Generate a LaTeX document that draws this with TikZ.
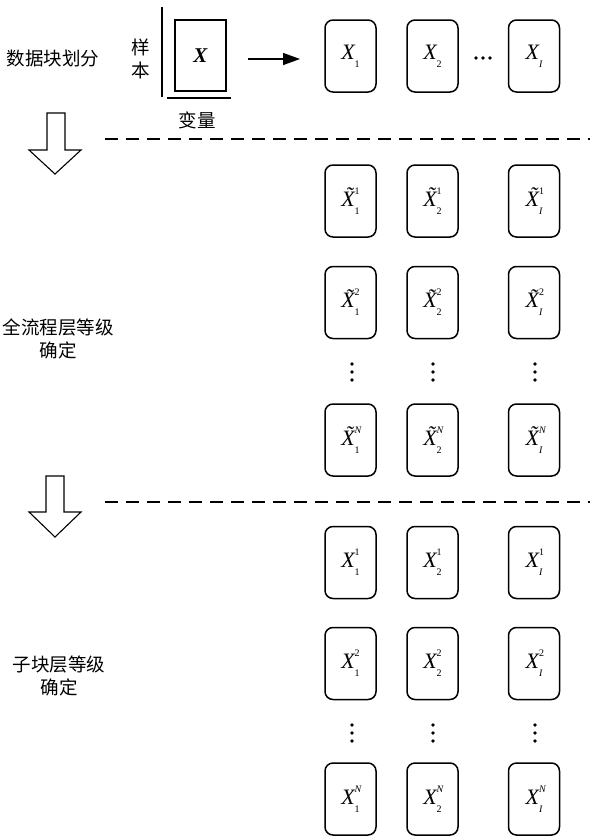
\documentclass[tikz,border=0pt]{standalone}
\usepackage{fontspec}
\setmainfont{Liberation Serif}
\newfontfamily\cjk{Noto Sans CJK SC}
\usetikzlibrary{arrows.meta}
\newcommand\xsym[3]{#1\makebox[0pt][l]{\raisebox{0.55em}{\fontsize{10}{10}\selectfont #2}}\raisebox{-0.36em}{\fontsize{10}{10}\selectfont #3}}
\newcommand\XX{{\itshape X}}
\newcommand\TX{{\itshape\~{X}}}
\tikzset{
  blk/.style={draw, line width=1.5pt, rounded corners=8pt, minimum width=51pt, minimum height=72pt, inner sep=0pt, font=\fontsize{22}{22}\selectfont},
  lbl/.style={font=\cjk\fontsize{18.5}{23}\selectfont, align=center, inner sep=0pt},
  sep/.style={line width=1.5pt, dash pattern=on 13pt off 8pt},
  bigarrow/.style={draw, line width=1.1pt, fill=white}
}
\begin{document}
\begin{tikzpicture}[x=1pt,y=-1pt]
\useasboundingbox (0,0) rectangle (590,836);
% left labels
\node[lbl] (t1) at (53,58) {数据块划分};
\node[lbl] (t2) at (58,339) {全流程层等级\\确定};
\node[lbl] (t3) at (59,676) {子块层等级\\确定};
% data matrix
\node[draw, line width=1.5pt, minimum width=51pt, minimum height=71pt, inner sep=0pt, font=\fontsize{21}{21}\selectfont\bfseries\itshape] (M) at (200.5,55.5) {X};
\coordinate (vl1) at (162,7);
\coordinate (vl2) at (162,97);
\draw[line width=1.5pt] (vl1) -- (vl2);
\coordinate (hl1) at (167,98);
\coordinate (hl2) at (231,98);
\draw[line width=1.5pt] (hl1) -- (hl2);
\node[lbl] (ybl) at (141,59) {样\\本};
\node[lbl] (bl) at (197,120) {变量};
\coordinate (a1) at (248,59);
\coordinate (a2) at (300,59);
\draw[line width=1.5pt, -{Triangle[length=17pt,width=12pt]}] (a1) -- (a2);
% row 1
\node[blk] (r1a) at (350.5,56) {\xsym{\XX}{}{1}};
\node[blk] (r1b) at (432.5,56) {\xsym{\XX}{}{2}};
\node[blk] (r1c) at (534,56) {\xsym{\XX}{}{\itshape I}};
\foreach \x in {476,483,490} \fill (\x,58) circle (1.8pt);
% separators
\coordinate (d1a) at (105,139);
\coordinate (d1b) at (590,139);
\draw[sep] (d1a) -- (d1b);
\coordinate (d2a) at (105,502);
\coordinate (d2b) at (590,502);
\draw[sep] (d2a) -- (d2b);
% big arrows
\draw[bigarrow] (47,113) -- (65,113) -- (65,150) -- (81,150) -- (55,174) -- (29,150) -- (47,150) -- cycle;
\draw[bigarrow] (46,476) -- (64,476) -- (64,512) -- (81,512) -- (55,537) -- (29,512) -- (46,512) -- cycle;
% tilde rows
\node[blk] (s1a) at (350.5,201) {\xsym{\TX}{1}{1}};
\node[blk] (s1b) at (432.5,201) {\xsym{\TX}{1}{2}};
\node[blk] (s1c) at (534,201) {\xsym{\TX}{1}{\itshape I}};
\node[blk] (s2a) at (350.5,302.5) {\xsym{\TX}{2}{1}};
\node[blk] (s2b) at (432.5,302.5) {\xsym{\TX}{2}{2}};
\node[blk] (s2c) at (534,302.5) {\xsym{\TX}{2}{\itshape I}};
\foreach \x in {352,433,535} \foreach \y in {364,372,380} \fill (\x,\y) circle (1.8pt);
\node[blk] (sNa) at (350.5,440) {\xsym{\TX}{\itshape N}{1}};
\node[blk] (sNb) at (432.5,440) {\xsym{\TX}{\itshape N}{2}};
\node[blk] (sNc) at (534,440) {\xsym{\TX}{\itshape N}{\itshape I}};
% sub-block rows
\node[blk] (u1a) at (350.5,562.5) {\xsym{\XX}{1}{1}};
\node[blk] (u1b) at (432.5,562.5) {\xsym{\XX}{1}{2}};
\node[blk] (u1c) at (534,562.5) {\xsym{\XX}{1}{\itshape I}};
\node[blk] (u2a) at (350.5,663.5) {\xsym{\XX}{2}{1}};
\node[blk] (u2b) at (432.5,663.5) {\xsym{\XX}{2}{2}};
\node[blk] (u2c) at (534,663.5) {\xsym{\XX}{2}{\itshape I}};
\foreach \x in {352,433,535} \foreach \y in {725,733,741} \fill (\x,\y) circle (1.8pt);
\node[blk] (uNa) at (350.5,799) {\xsym{\XX}{\itshape N}{1}};
\node[blk] (uNb) at (432.5,799) {\xsym{\XX}{\itshape N}{2}};
\node[blk] (uNc) at (534,799) {\xsym{\XX}{\itshape N}{\itshape I}};
\end{tikzpicture}
\end{document}
